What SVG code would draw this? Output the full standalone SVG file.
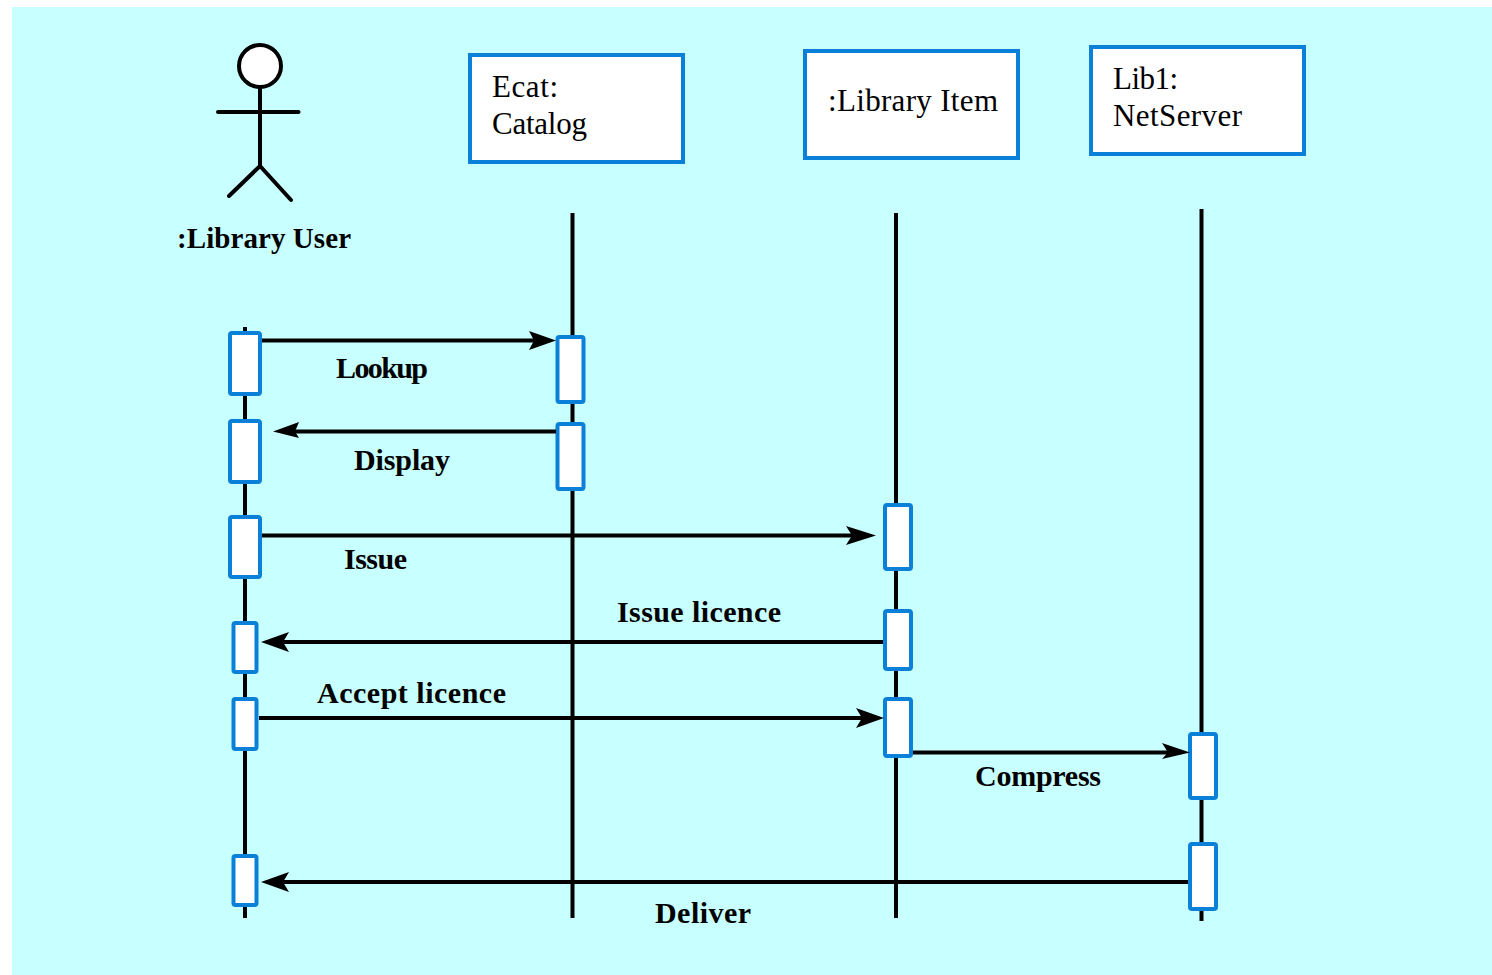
<svg xmlns="http://www.w3.org/2000/svg" width="1492" height="975" viewBox="0 0 1492 975">
<defs>
<style>
.ln{stroke:#000;stroke-width:4;fill:none}
.act{fill:#fff;stroke:#0a80d8;stroke-width:4;}
.box{fill:#fff;stroke:#0a80d8;stroke-width:4}
text{font-family:"Liberation Serif",serif;fill:#000;font-size:31px}
.b{font-weight:bold;font-size:30px}
.ah{fill:#000;stroke:none}
</style>
</defs>
<rect x="0" y="0" width="1492" height="975" fill="#fff"/>
<rect x="12" y="7" width="1480" height="968" fill="#c8ffff"/>
<g id="lifelines">
<line class="ln" x1="245" y1="327" x2="245" y2="918"/>
<line class="ln" x1="572.500" y1="213" x2="572.500" y2="918"/>
<line class="ln" x1="896" y1="213" x2="896" y2="918"/>
<line class="ln" x1="1201.500" y1="209" x2="1201.500" y2="921"/>
</g>
<g id="actor-library-user">
<circle cx="260" cy="66" r="21" fill="#fff" stroke="#000" stroke-width="4"/>
<path class="ln" stroke-linecap="round" d="M260 87V166M218 112H298.500M260 166L229 196M260 166L291 200"/>
<text x="177" y="248" textLength="174" style="font-weight:bold;font-size:29px">:Library User</text>
</g>
<g id="node-ecat"><rect class="box" x="470" y="55" width="213" height="107"/><text x="492" y="97" textLength="66">Ecat:</text><text x="492" y="134" textLength="95">Catalog</text></g>
<g id="node-library-item"><rect class="box" x="805" y="51" width="213" height="107"/><text x="828" y="111" textLength="170">:Library Item</text></g>
<g id="node-lib1"><rect class="box" x="1091" y="47" width="213" height="107"/><text x="1113" y="89" textLength="65">Lib1:</text><text x="1113" y="126" textLength="129">NetServer</text></g>
<g id="activations">
<rect class="act" x="230" y="333" width="30" height="61" rx="2"/>
<rect class="act" x="230" y="421" width="30" height="61" rx="2"/>
<rect class="act" x="230" y="517" width="30" height="60" rx="2"/>
<rect class="act" x="233.500" y="623" width="23" height="49" rx="2"/>
<rect class="act" x="233.500" y="699" width="23" height="50" rx="2"/>
<rect class="act" x="233.500" y="856" width="23" height="49" rx="2"/>
<rect class="act" x="557.500" y="337" width="26" height="65" rx="2"/>
<rect class="act" x="557.500" y="424" width="26" height="65" rx="2"/>
<rect class="act" x="885" y="505" width="26" height="64" rx="2"/>
<rect class="act" x="885" y="611" width="26" height="58" rx="2"/>
<rect class="act" x="885" y="699" width="26" height="57" rx="2"/>
<rect class="act" x="1190" y="734" width="26" height="64" rx="2"/>
<rect class="act" x="1190" y="844" width="26" height="65" rx="2"/>
</g>
<g id="connectors">
<line class="ln" x1="262" y1="340.500" x2="535" y2="340.500"/>
<path class="ah" d="M529 331L556 340.500L529 350L534 340.500Z"/>
<line class="ln" x1="556" y1="431.500" x2="295" y2="431.500"/>
<path class="ah" d="M299 422L273 431.500L299 438L295 431.500Z"/>
<line class="ln" x1="262" y1="535.500" x2="855" y2="535.500"/>
<path class="ah" d="M846 526L876 535.500L846 545L852 535.500Z"/>
<line class="ln" x1="883" y1="642" x2="282" y2="642"/>
<path class="ah" d="M289 632L261 642L289 652L283 642Z"/>
<line class="ln" x1="259" y1="718" x2="864" y2="718"/>
<path class="ah" d="M856 708L884 718L856 728L862 718Z"/>
<line class="ln" x1="913" y1="752.500" x2="1170" y2="752.500"/>
<path class="ah" d="M1162 743L1190 752.500L1162 759L1168 752.500Z"/>
<line class="ln" x1="1188" y1="882" x2="282" y2="882"/>
<path class="ah" d="M289 872L261 882L289 892L283 882Z"/>
</g>
<g id="labels">
<text class="b" x="336" y="378" textLength="92">Lookup</text>
<text class="b" x="354" y="470" textLength="96">Display</text>
<text class="b" x="344" y="569" textLength="63">Issue</text>
<text class="b" x="617" y="622" textLength="164">Issue licence</text>
<text class="b" x="317" y="703" textLength="189">Accept licence</text>
<text class="b" x="975" y="786" textLength="126">Compress</text>
<text class="b" x="655" y="923" textLength="96">Deliver</text>
</g>
</svg>
